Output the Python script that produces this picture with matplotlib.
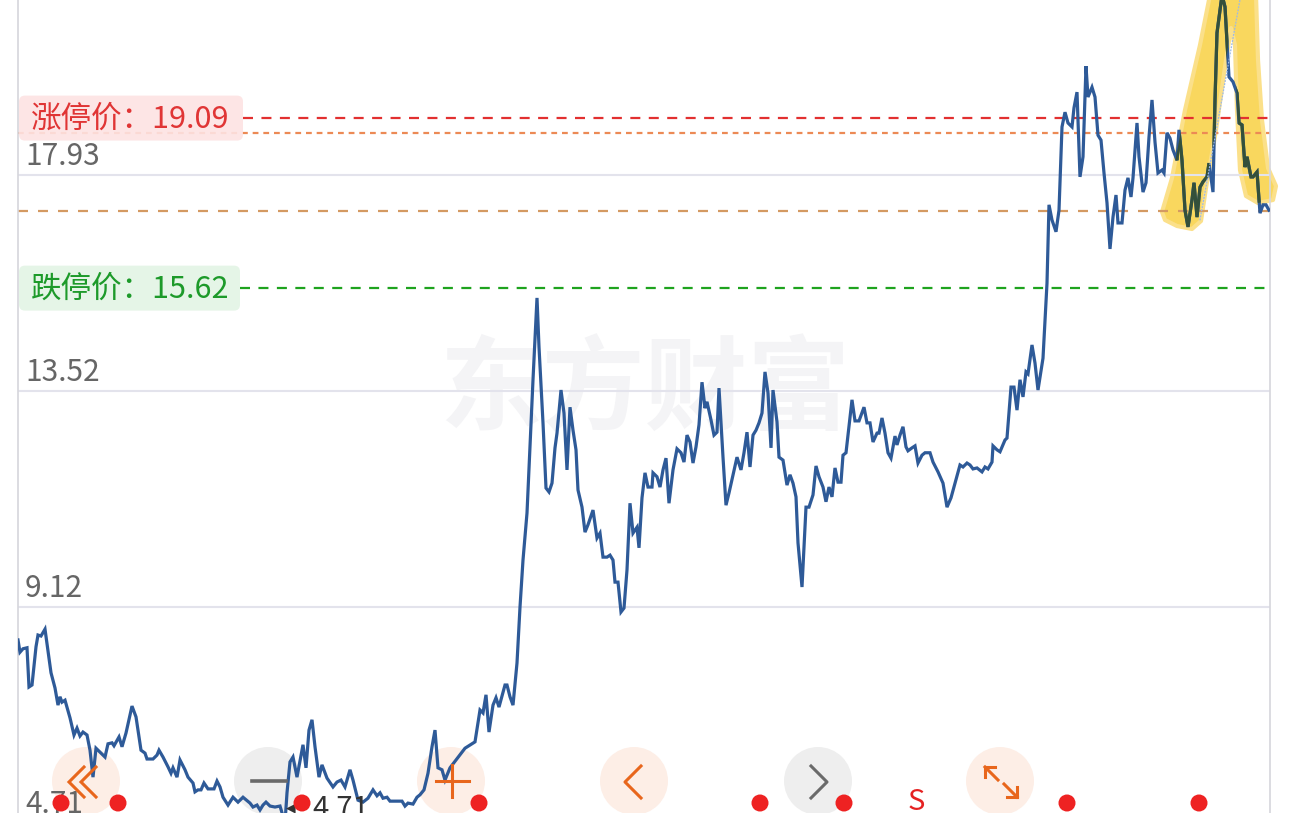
import matplotlib
matplotlib.use('Agg')
import matplotlib.pyplot as plt
import numpy as np
from matplotlib.patches import Circle, FancyBboxPatch, Polygon

FONT = ['Noto Sans CJK SC', 'DejaVu Sans']
plt.rcParams['font.family'] = FONT

# ---------------- data ----------------
days = [
    0, 2, 5, 9, 11, 14, 18, 20, 23, 27,
    33, 37, 40, 42, 44, 47, 52, 56, 59, 62,
    65, 69, 72, 75, 78, 82, 87, 90, 94, 96,
    101, 104, 108, 114, 118, 123, 127, 129, 135, 139,
    141, 145, 150, 153, 155, 159, 162, 167, 170, 175,
    177, 180, 183, 186, 190, 196, 199, 202, 205,
    210, 215, 220, 225, 232, 235, 239, 242, 245, 248,
    252, 257, 262, 267, 269, 272, 275, 279, 285, 288,
    291, 294, 297, 301, 304, 309, 315, 319, 323, 327,
    332, 335, 340, 345, 350, 355, 359, 362, 365, 369,
    372, 379, 384, 387, 390, 395, 399, 402, 406, 410,
    414, 417, 420, 424, 427, 432,
    447, 457, 462, 465, 468, 471, 475, 478, 481, 487,
    489, 492, 495, 499, 502, 505, 509, 512, 515, 519,
    521, 525, 528, 531, 534, 537, 539, 543, 546, 549,
    552, 555, 558, 560, 564, 567, 570, 575, 579, 582,
    585, 589, 592, 595, 597, 600, 603, 606, 609, 612,
    615, 619, 621,
    624, 627, 630, 634, 635, 639, 642, 645, 648, 651,
    655, 659, 663, 666, 669, 672, 675, 678, 681, 684,
    687, 689, 693, 696, 699, 701, 705, 708, 711, 715,
    719, 723, 726, 729, 732, 735, 738, 741, 744, 747,
    750, 753, 755, 759, 761, 765, 769, 772, 775, 778,
    780, 784, 788, 791, 795, 798, 801,
    805, 808, 811, 814, 817, 820, 823, 825, 828, 834,
    837, 841, 846, 849, 852, 855, 859, 861, 864, 867,
    870, 873, 877, 879, 882, 885, 888, 890, 894, 897,
    900, 904, 907, 912, 915, 920, 925, 929, 933, 937,
    942, 945, 949, 952, 955, 959, 964, 967, 970, 974,
    975, 979, 982, 987, 989, 993, 996, 999, 1002, 1005,
    1008, 1010, 1014, 1017, 1020, 1025, 1029, 1031, 1034, 1038,
    1041, 1044, 1047, 1050, 1054, 1056, 1059, 1062, 1065, 1068,
    1070, 1074, 1077, 1080, 1083, 1086, 1089, 1092, 1095, 1098,
    1100, 1104, 1107, 1110, 1113, 1115, 1119, 1121, 1125, 1128,
    1131, 1134, 1137, 1140, 1144, 1146, 1149, 1152, 1155, 1159,
    1161, 1164, 1167, 1170, 1174, 1176, 1179, 1182, 1185, 1189,
    1191, 1195, 1197, 1199, 1204, 1207, 1211, 1215, 1219, 1221,
    1224, 1227, 1229, 1233, 1235, 1239, 1242, 1245, 1248, 1251,
]
close = [
    8.44, 8.19, 8.26, 8.28, 7.48, 7.52, 8.30, 8.54, 8.52, 8.66,
    7.77, 7.46, 7.11, 7.28, 7.17, 7.21, 6.85, 6.50, 6.64, 6.48,
    6.56, 6.50, 6.19, 5.64, 6.23, 6.15, 6.05, 6.32, 6.34, 6.28,
    6.46, 6.26, 6.54, 7.09, 6.87, 6.19, 6.13, 6.01, 6.01, 6.09,
    6.19, 6.05, 5.85, 5.72, 5.83, 5.64, 5.99, 5.79, 5.64, 5.52,
    5.34, 5.38, 5.38, 5.52, 5.40, 5.40, 5.56, 5.44, 5.23,
    5.07, 5.23, 5.13, 5.23, 5.11, 5.03, 5.07, 4.97, 5.07, 5.13,
    5.05, 5.03, 5.05, 4.71, 5.32, 5.95, 6.05, 5.64, 6.30, 5.83,
    6.60, 6.81, 6.26, 5.64, 5.89, 5.62, 5.44, 5.54, 5.58, 5.44,
    5.79, 5.58, 5.17, 5.13, 5.21, 5.38, 5.26, 5.32, 5.21, 5.23,
    5.15, 5.15, 5.15, 5.05, 5.11, 5.09, 5.23, 5.28, 5.38, 5.72,
    6.26, 6.60, 5.83, 5.79, 5.58, 5.83,
    6.23, 6.36, 7.01, 6.95, 7.32, 6.56, 7.11, 7.26, 7.07, 7.52,
    7.52, 7.28, 7.11, 7.97, 9.11, 10.07, 11.03, 12.38, 13.75, 15.42,
    14.42, 12.87, 11.54, 11.46, 11.64, 12.36, 12.66, 13.54, 13.07, 11.91,
    13.19, 12.72, 12.32, 11.50, 11.15, 10.64, 10.79, 11.09, 10.52, 10.62,
    10.13, 10.13, 10.17, 10.07, 9.62, 9.62, 9.01, 9.09, 9.87, 11.23,
    10.62, 10.74, 10.32,
    11.34, 11.85, 11.56, 11.56, 11.85, 11.77, 11.56, 11.91, 12.15, 11.23,
    11.91, 12.34, 12.26, 12.07, 12.62, 12.48, 12.05, 12.38, 12.83, 13.70,
    13.17, 13.30, 12.93, 12.62, 12.68, 13.58, 12.17, 11.19, 11.44, 11.81,
    12.17, 11.91, 12.26, 12.68, 11.97, 12.62, 12.72, 12.87, 13.07, 13.91,
    13.48, 12.36, 13.54, 12.89, 12.17, 12.11, 11.60, 11.81, 11.64, 11.36,
    10.42, 9.52, 11.15, 11.15, 11.40, 11.99, 11.77,
    11.56, 11.26, 11.56, 11.36, 11.95, 11.66, 11.66, 12.21, 12.26, 13.34,
    12.91, 12.91, 13.19, 12.87, 12.87, 12.48, 12.66, 12.66, 12.97, 12.66,
    12.26, 12.15, 12.60, 12.42, 12.62, 12.79, 12.38, 12.30, 12.36, 12.40,
    12.05, 12.21, 12.26, 12.26, 12.07, 11.87, 11.64, 11.15, 11.34, 11.64,
    12.01, 11.97, 12.05, 12.01, 11.93, 11.95, 11.87, 11.97, 11.93, 12.07,
    12.40, 12.32, 12.28, 12.52, 12.56, 13.60, 13.60, 13.13, 13.75, 13.40,
    13.91, 13.87, 14.46, 14.09, 13.54, 14.19, 15.72, 17.32, 17.01, 16.77,
    17.21, 18.91, 19.21, 18.99, 18.91, 19.30, 19.62, 17.89, 18.30, 20.15,
    19.52, 19.72, 19.52, 18.74, 18.64, 17.97, 17.36, 16.42, 17.07, 17.52,
    16.95, 16.95, 17.62, 17.87, 17.48, 17.87, 18.99, 18.30, 17.58, 17.77,
    18.70, 19.46, 18.60, 17.97, 18.03, 17.97, 18.79, 18.68, 18.44, 18.23,
    18.85, 18.23, 17.21, 16.87, 17.42, 17.77, 17.07, 17.68, 17.79, 17.89,
    18.17, 17.58, 19.46, 20.83, 21.60, 21.36, 19.93, 19.83, 19.60, 18.99,
    18.95, 18.09, 18.30, 17.89, 17.89, 17.99, 17.15, 17.32, 17.32, 17.21,
]
grid_levels = [17.93, 13.52, 9.12, 4.71]
grid_labels = ['17.93', '13.52', '9.12', '4.71']
limit_up = 19.09
limit_down = 15.62
cost_high = 18.79
cost_mid = 17.19
limit_up_label = '涨停价：19.09'
limit_down_label = '跌停价：15.62'
min_label = '4.71'

# ---------------- figure ----------------
W, H = 1290, 813
fig = plt.figure(figsize=(W / 100, H / 100), dpi=100, facecolor='white')

# background layer (button discs, watermark, highlighter)
bg = fig.add_axes([0, 0, 1, 1])
bg.set_xlim(0, W); bg.set_ylim(H, 0); bg.axis('off')
bg.set_zorder(0)

ax = fig.add_axes([18 / W, 0, 1252 / W, 1])
ax.set_zorder(1)
ax.patch.set_alpha(0)
ax.set_xlim(0, 1252)
ax.set_ylim(21.5 - H / 49.0, 21.5)
for s in ['top', 'bottom']:
    ax.spines[s].set_visible(False)
for s in ['left', 'right']:
    ax.spines[s].set_color('#d6d6dc')
    ax.spines[s].set_linewidth(1.2)
ax.set_xticks([]); ax.set_yticks([])

fg = fig.add_axes([0, 0, 1, 1])
fg.set_xlim(0, W); fg.set_ylim(H, 0); fg.axis('off')
fg.set_zorder(2)
fg.patch.set_alpha(0)

# watermark
bg.text(645, 392, '东方财富', fontsize=74, fontweight='bold', color='#f4f4f6',
        ha='center', va='center', family=FONT)

# hand-drawn highlighter stroke (decoration)
hl = [(1162, 212), (1172, 178), (1185, 110), (1200, 45), (1210, -5), (1256, -5),
      (1258, 60), (1262, 120), (1268, 168), (1276, 186), (1273, 200), (1258, 203),
      (1246, 196), (1240, 170), (1237, 110), (1235, 45), (1231, 28), (1226, 60),
      (1216, 130), (1206, 188), (1201, 221), (1192, 229), (1177, 226), (1165, 220)]
hl_patch = Polygon(hl, closed=True, fc='#f9d75e', ec='#fbe08a', lw=3,
                   joinstyle='round', transform=bg.transData, zorder=1)
bg.add_patch(hl_patch)

# grid lines and labels
for lv, lab in zip(grid_levels, grid_labels):
    ax.axhline(lv, color='#e3e3ec', lw=1.5, zorder=1)
    ax.text(7 / 1252, lv + 0.2, lab, transform=ax.get_yaxis_transform(),
            fontsize=21.5, color='#666666', va='baseline', ha='left', zorder=3)

# reference levels
ax.axhline(cost_high, color='#ec8a55', lw=1.6, ls=(0, (2.6, 2.2)), zorder=2)
ax.axhline(cost_mid, color='#d49a62', lw=1.6, ls=(0, (4.5, 4.5)), zorder=2)
ax.axhline(limit_up, xmin=0.18, color='#e23030', lw=1.6, ls=(0, (4.5, 3.8)), zorder=2)
ax.axhline(limit_down, xmin=0.177, color='#1ea31e', lw=1.6, ls=(0, (4.5, 3.8)), zorder=2)

# price line
ax.plot(days, close, color='#2e5a98', lw=2.3, zorder=4, solid_joinstyle='miter')
# the part under the highlighter looks darker (multiply effect)
dark, = ax.plot(days, close, color='#34503a', lw=2.3, zorder=5, solid_joinstyle='miter')
dark.set_clip_path(hl_patch)

# thin pen stroke inside the highlight
ax.plot([0.944, 0.976], [0.729, 1.0], transform=ax.transAxes,
        color='#9cb9e8', lw=0.9, ls=(0, (1.5, 1.0)), zorder=6)

# label boxes
def ypx(level):
    disp = ax.transData.transform((0, level))
    return fg.transData.inverted().transform(disp)[1]

for lv, lab, fc, tc, x1 in [(limit_up, limit_up_label, '#fde3e3', '#e03535', 243),
                            (limit_down, limit_down_label, '#e3f4e5', '#1d9a2a', 240)]:
    yc = ypx(lv)
    box = FancyBboxPatch((19, yc - 22.5), x1 - 19, 45,
                         boxstyle='round,pad=0,rounding_size=6',
                         fc=fc, ec='none', alpha=0.9, zorder=3)
    fg.add_patch(box)
    fg.text(31, yc + 1, lab, fontsize=22, color=tc, va='center', ha='left', zorder=4)

# min marker
imin = int(np.argmin(close))
ax.annotate(min_label, xy=(days[imin], close[imin]), xytext=(20, 4),
            textcoords='offset points', fontsize=21, color='#333333',
            va='baseline', ha='left', zorder=6, annotation_clip=False)
ax.annotate('◀', xy=(days[imin], close[imin]), xytext=(1, 8),
            textcoords='offset points', fontsize=9, color='#333333',
            va='baseline', ha='left', zorder=6, family=['DejaVu Sans'],
            annotation_clip=False)

# bottom toolbar buttons
btn_x = [86, 268, 451, 634, 818, 1000]
btn_c = ['#fdeee6', '#eeeeee', '#fdeee6', '#fdeee6', '#eeeeee', '#fdeee6']
for cx, cc in zip(btn_x, btn_c):
    bg.add_patch(Circle((cx, 781), 34, fc=cc, ec='none'))

OR = '#e8661c'
GR = '#6a6a6a'
lwi = 2.2
# «
for ox in (69, 81):
    fg.plot([ox + 15, ox, ox + 15], [767, 782, 797], color=OR, lw=lwi, solid_joinstyle='miter')
# —
fg.plot([252, 286], [781, 781], color=GR, lw=2.6)
# +
fg.plot([436, 469], [781, 781], color=OR, lw=lwi)
fg.plot([452, 452], [765, 797], color=OR, lw=lwi)
# <
fg.plot([641, 625, 641], [766, 782, 798], color=OR, lw=lwi)
# >
fg.plot([811, 827, 811], [766, 782, 798], color=GR, lw=lwi)
# expand arrows
fg.plot([985, 998], [767, 780], color=OR, lw=lwi)
fg.plot([985, 985], [767, 777], color=OR, lw=lwi)
fg.plot([985, 995], [767, 767], color=OR, lw=lwi)
fg.plot([1004, 1017], [784, 797], color=OR, lw=lwi)
fg.plot([1017, 1017], [787, 797], color=OR, lw=lwi)
fg.plot([1007, 1017], [797, 797], color=OR, lw=lwi)

# S marker
fg.text(916, 810, 'S', fontsize=21, color='#e52222', ha='center', va='baseline')

# red dots
for dx in [61, 118, 302, 479, 760, 844, 1067, 1199]:
    fg.add_patch(Circle((dx, 803), 8.5, fc='#ee2222', ec='none', zorder=5))

fig.savefig('out.png', dpi=100, facecolor='white')
